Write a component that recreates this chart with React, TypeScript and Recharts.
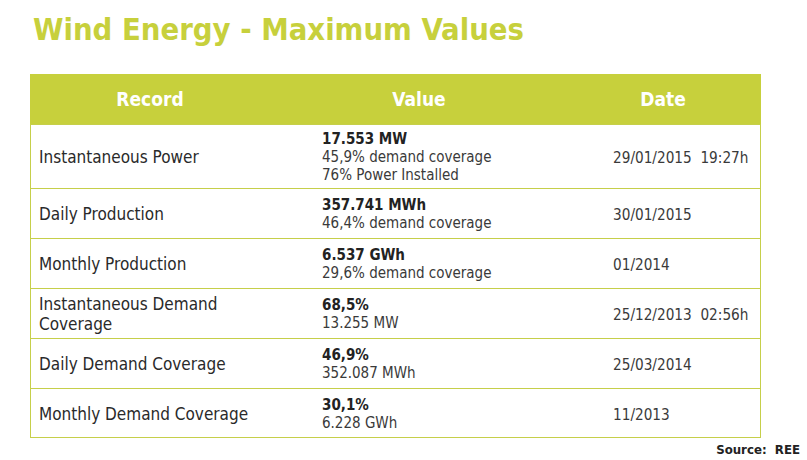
import React from 'react';
import { BarChart, Bar, XAxis, YAxis, Customized } from 'recharts';

// ---- data ----
const headers = ['Record', 'Value', 'Date'];
const records = [
  ['Instantaneous Power'],
  ['Daily Production'],
  ['Monthly Production'],
  ['Instantaneous Demand', 'Coverage'],
  ['Daily Demand Coverage'],
  ['Monthly Demand Coverage'],
];
const mainValues = ['17.553 MW', '357.741 MWh', '6.537 GWh', '68,5%', '46,9%', '30,1%'];
const detailValues = [
  ['45,9% demand coverage', '76% Power Installed'],
  ['46,4% demand coverage'],
  ['29,6% demand coverage'],
  ['13.255 MW'],
  ['352.087 MWh'],
  ['6.228 GWh'],
];
const dates = ['29/01/2015  19:27h', '30/01/2015', '01/2014', '25/12/2013  02:56h', '25/03/2014', '11/2013'];
const title = 'Wind Energy - Maximum Values';
const source = 'Source:  REE';

// ---- styles ----
const W = 807;
const H = 460;
const GREEN = '#c7d03c';
const BORDER = '#c6cf4a';
const TEXT = '#2a2a2a';
const FONT = '"DejaVu Sans Condensed", "DejaVu Sans", sans-serif';
const LINE_PX = 14;
const PAD_PX = 22;
const HEADER_PX = 50;

// row heights derived from how many lines each value cell holds
const rowSizes = detailValues.map((d) => (d.length + 1) * LINE_PX + PAD_PX);
const keys = ['header', ...records.map((_, i) => `row${i}`)];
const tableRow: Record<string, any> = { name: 'table', header: HEADER_PX };
rowSizes.forEach((s, i) => (tableRow[`row${i}`] = s));
const total = HEADER_PX + rowSizes.reduce((a, b) => a + b, 0);
const data = [tableRow];

// column anchors relative to the table's left edge
const colTextX = [9, 292, 583];
const colHeadCenter = [120, 389, 633];

const HeaderShape = (p: any) => {
  const top = Math.round(Math.min(p.y, p.y + p.height));
  const h = Math.round(Math.abs(p.height));
  const x = Math.round(p.x);
  const w = Math.round(p.width);
  const cy = top + h / 2;
  return (
    <g>
      <rect x={x} y={top} width={w} height={h} fill={GREEN} />
      {headers.map((t, i) => (
        <text
          key={t}
          x={x + colHeadCenter[i]}
          y={cy + 7}
          textAnchor="middle"
          fill="#ffffff"
          fontFamily={FONT}
          fontWeight="bold"
          fontSize={19}
        >
          {t}
        </text>
      ))}
    </g>
  );
};

const makeRowShape = (idx: number) => (p: any) => {
  const top = Math.round(Math.min(p.y, p.y + p.height));
  const h = Math.round(Math.abs(p.height));
  const x = Math.round(p.x);
  const w = Math.round(p.width);
  const cy = top + h / 2;
  const rec = records[idx];
  const lines = [mainValues[idx], ...detailValues[idx]];
  const vStart = cy - ((lines.length - 1) * 18) / 2 + 5.5;
  const rStart = cy - ((rec.length - 1) * 20) / 2 + 7;
  const last = idx === records.length - 1;
  return (
    <g>
      <rect x={x} y={top} width={w} height={h} fill="#ffffff" />
      <line x1={x} x2={x + w} y1={top + 0.5} y2={top + 0.5} stroke={BORDER} strokeWidth={1} />
      <line x1={x + 0.5} x2={x + 0.5} y1={top} y2={top + h} stroke={BORDER} strokeWidth={1} />
      <line x1={x + w - 0.5} x2={x + w - 0.5} y1={top} y2={top + h} stroke={BORDER} strokeWidth={1} />
      {last && <line x1={x} x2={x + w} y1={top + h - 0.5} y2={top + h - 0.5} stroke={BORDER} strokeWidth={1} />}
      {rec.map((t, i) => (
        <text key={i} x={x + colTextX[0]} y={rStart + i * 20} fill={TEXT} fontFamily={FONT} fontSize={17}>
          {t}
        </text>
      ))}
      {lines.map((t, i) => (
        <text
          key={i}
          x={x + colTextX[1]}
          y={vStart + i * 18}
          fill={i === 0 ? '#222' : '#3a3a3a'}
          fontFamily={FONT}
          fontWeight={i === 0 ? 'bold' : 'normal'}
          fontSize={15}
        >
          {t}
        </text>
      ))}
      <text x={x + colTextX[2]} y={cy + 7} fill="#3a3a3a" fontFamily={FONT} fontSize={15.2} style={{ whiteSpace: 'pre' }}>
        {dates[idx]}
      </text>
    </g>
  );
};

const Decorations = () => (
  <g>
    <text x={33} y={40} fill={GREEN} fontFamily={FONT} fontWeight="bold" fontSize={30.7}>
      {title}
    </text>
    <text x={800} y={454} textAnchor="end" fill="#222" fontFamily={FONT} fontWeight="bold" fontSize={13.1} style={{ whiteSpace: 'pre' }}>
      {source}
    </text>
  </g>
);

export default function App() {
  return (
    <div style={{ position: 'absolute', left: 0, top: 0, width: W, height: H, background: '#fff' }}>
      <BarChart
        width={W}
        height={H}
        data={data}
        margin={{ top: 74, left: 30, right: 46, bottom: 22 }}
        barCategoryGap={0}
        barGap={0}
      >
        <XAxis type="category" dataKey="name" hide />
        <YAxis type="number" domain={[0, total]} reversed hide allowDataOverflow />
        {keys.map((k, i) => (
          <Bar
            key={k}
            dataKey={k}
            stackId="t"
            isAnimationActive={false}
            shape={i === 0 ? HeaderShape : makeRowShape(i - 1)}
          />
        ))}
        <Customized component={Decorations} />
      </BarChart>
    </div>
  );
}
